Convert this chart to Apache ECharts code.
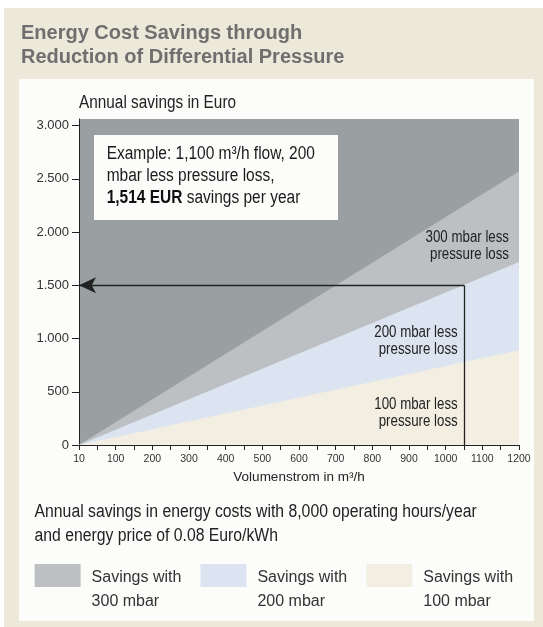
<!DOCTYPE html>
<html>
<head>
<meta charset="utf-8">
<script src="https://cdn.jsdelivr.net/npm/echarts@6/dist/echarts.min.js"></script>
<style>
  html, body { margin: 0; padding: 0; background: #ffffff; }
  #outer { position: absolute; left: 4px; top: 8px; width: 539px; height: 619px; background: #ece9da; }
  #inner { position: absolute; left: 19px; top: 79px; width: 515px; height: 542px; background: #fcfcfa; }
  #chart { position: absolute; left: 0; top: 0; width: 543px; height: 627px; }
</style>
</head>
<body>
<div id="outer"></div>
<div id="inner"></div>
<div id="chart"></div>
<script>
// ---- data ----
const flow = [0, 1200];                 // m3/h
const savings300 = [0, 2570];           // Euro / year
const savings200 = [0, 1720];
const savings100 = [0, 890];
const seriesNames = ['300 mbar', '200 mbar', '100 mbar'];
const exampleFlow = 1050;
const exampleSavings = 1500;
const xTickValues = [0,50,100,150,200,250,300,350,400,450,500,550,600,650,700,750,800,850,900,950,1000,1050,1100,1150,1200];
const xLabelValues = [0,100,200,300,400,500,600,700,800,900,1000,1100,1200];
const yLabelValues = [0,500,1000,1500,2000,2500,3000];

const SANS = '"Liberation Sans",Arial,Helvetica,sans-serif';

function pairs(xs, ys) { return xs.map((x, i) => [x, ys[i]]); }

const colors = ['#bcc0c2', '#dbe4f0', '#f2eee2'];

const chart = echarts.init(document.getElementById('chart'), null, { renderer: 'canvas' });

function areaSeries(name, values, color, extra) {
  return Object.assign({
    name: name,
    type: 'line',
    data: pairs(flow, values),
    color: color,
    showSymbol: false,
    symbol: 'none',
    silent: true,
    lineStyle: { width: 0, color: color },
    areaStyle: { color: color, opacity: 1 },
    animation: false
  }, extra || {});
}

function yFmt(v) {
  if (v < 1000) return String(v);
  return (v / 1000).toFixed(3);
}

const option = {
  animation: false,
  grid: { left: 79, right: 24, top: 119, bottom: 182, show: true, backgroundColor: '#9aa0a2', borderWidth: 0 },
  xAxis: {
    type: 'value', min: 0, max: 1200, interval: 100,
    name: 'Volumenstrom in m³/h', nameLocation: 'middle', nameGap: 22,
    nameTextStyle: { fontFamily: SANS, fontSize: 13.5, color: '#222' },
    axisLine: { show: true, onZero: false, lineStyle: { color: '#222', width: 1 } },
    axisTick: { show: true, length: 5, customValues: xTickValues, lineStyle: { color: '#222' } },
    axisLabel: { customValues: xLabelValues, margin: 9, fontFamily: SANS, fontSize: 10.5, color: '#333',
      formatter: v => (v === 0 ? '10' : String(v)) },
    splitLine: { show: false }
  },
  yAxis: {
    type: 'value', min: 0, max: 3063, interval: 500,
    axisLine: { show: true, lineStyle: { color: '#222', width: 1 } },
    axisTick: { show: true, length: 7, customValues: yLabelValues, lineStyle: { color: '#222' } },
    axisLabel: { customValues: yLabelValues, margin: 10, fontFamily: SANS, fontSize: 13, color: '#333',
      formatter: yFmt },
    splitLine: { show: false }
  },
  legend: {
    left: 34.6, top: 546.5, padding: 0, itemGap: 19,
    itemWidth: 46, itemHeight: 23, icon: 'rect', selectedMode: false,
    itemStyle: { borderWidth: 0 },
    data: seriesNames,
    formatter: name => '{s| }\n{t|Savings with}\n{t|' + name + '}',
    textStyle: {
      fontFamily: SANS, fontSize: 16, color: '#333',
      rich: {
        s: { fontFamily: SANS, fontSize: 10, lineHeight: 29, padding: [0, 0, 0, 6] },
        t: { fontFamily: SANS, fontSize: 16, lineHeight: 24, color: '#333', padding: [0, 0, 0, 6] }
      }
    }
  },
  series: [
    areaSeries(seriesNames[0], savings300, colors[0]),
    areaSeries(seriesNames[1], savings200, colors[1], {
      markLine: {
        silent: true, animation: false,
        symbol: ['none', 'none'],
        label: { show: false },
        lineStyle: { color: '#222', width: 1.3, type: 'solid' },
        data: [
          [{ coord: [exampleFlow, exampleSavings], symbol: 'none' }, { coord: [exampleFlow, 0], symbol: 'none' }],
          [{ coord: [exampleFlow, exampleSavings], symbol: 'none' }, { coord: [0, exampleSavings], symbol: 'arrow', symbolSize: [12, 17] }]
        ]
      }
    }),
    areaSeries(seriesNames[2], savings100, colors[2])
  ],
  graphic: [
    { type: 'text', left: 21, top: 22, silent: true,
      style: { text: 'Energy Cost Savings through\nReduction of Differential Pressure', font: 'bold 20px ' + SANS, fill: '#6f6f6f', lineHeight: 23.5 } },
    { type: 'text', x: 79, y: 103, scaleX: 0.853, silent: true,
      style: { text: 'Annual savings in Euro', font: '18px ' + SANS, fill: '#222', verticalAlign: 'middle' } },
    { type: 'rect', shape: { x: 94, y: 135, width: 244, height: 85 }, style: { fill: '#fcfcfa' }, z: 100, silent: true },
    { type: 'text', x: 106.7, y: 176, z: 101, scaleX: 0.86, silent: true,
      style: {
        text: '{n|Example: 1,100 m³/h flow, 200}\n{n|mbar less pressure loss,}\n{b|1,514 EUR}{n| savings per year}',
        verticalAlign: 'middle', fill: '#1a1a1a',
        rich: {
          n: { fontFamily: SANS, fontSize: 18, lineHeight: 22.2, fill: '#1a1a1a' },
          b: { fontFamily: SANS, fontSize: 18, lineHeight: 22.2, fontWeight: 'bold', fill: '#111' }
        }
      } },
    { type: 'text', x: 509, y: 245.7, z: 100, scaleX: 0.83, silent: true,
      style: { text: '300 mbar less\npressure loss', font: '16px ' + SANS, fill: '#222', align: 'right', verticalAlign: 'middle', lineHeight: 17 } },
    { type: 'text', x: 457.7, y: 341, z: 100, scaleX: 0.83, silent: true,
      style: { text: '200 mbar less\npressure loss', font: '16px ' + SANS, fill: '#222', align: 'right', verticalAlign: 'middle', lineHeight: 17 } },
    { type: 'text', x: 457.7, y: 413.5, z: 100, scaleX: 0.83, silent: true,
      style: { text: '100 mbar less\npressure loss', font: '16px ' + SANS, fill: '#222', align: 'right', verticalAlign: 'middle', lineHeight: 17 } },
    { type: 'text', x: 34.6, y: 523.8, scaleX: 0.875, silent: true,
      style: { text: 'Annual savings in energy costs with 8,000 operating hours/year\nand energy price of 0.08 Euro/kWh', font: '18px ' + SANS, fill: '#222', verticalAlign: 'middle', lineHeight: 23.6 } }
  ]
};
chart.setOption(option);
</script>
</body>
</html>
